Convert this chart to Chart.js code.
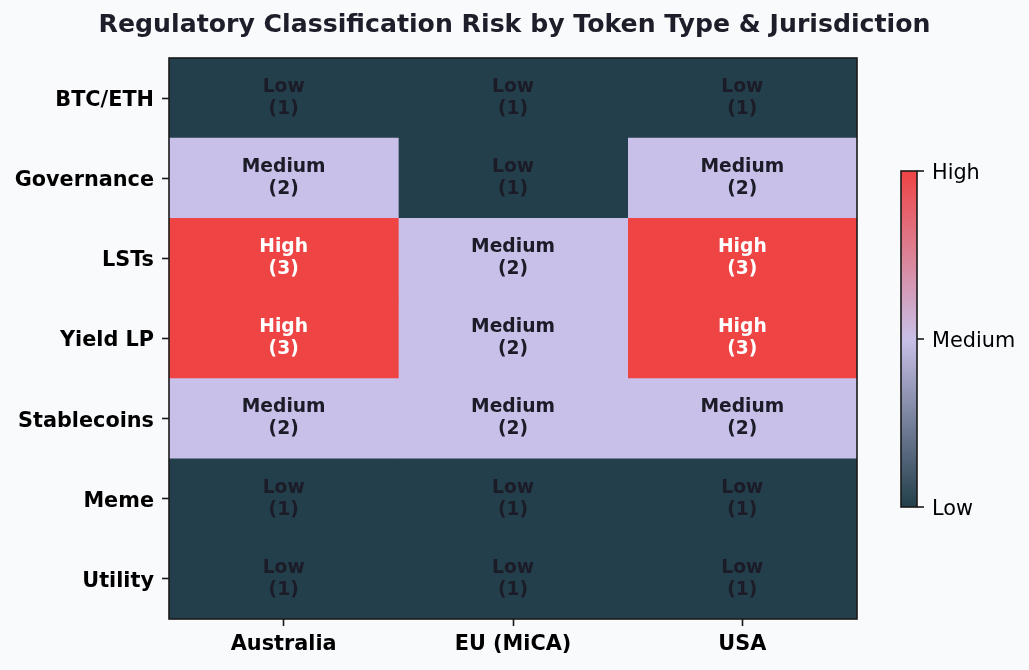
<!DOCTYPE html>
<html>
<head>
<meta charset="utf-8">
<script src="https://cdn.jsdelivr.net/npm/chart.js@4.4.1/dist/chart.umd.min.js"></script>
<style>
  html, body { margin: 0; padding: 0; background: #f8fafc; }
  #wrap { width: 1029px; height: 670px; }
</style>
</head>
<body>
<div id="wrap"><canvas id="chart-1"></canvas></div>
<script>
// rows top to bottom, columns left to right
var tokenTypes = ["BTC/ETH", "Governance", "LSTs", "Yield LP", "Stablecoins", "Meme", "Utility"];
var jurisdictions = ["Australia", "EU (MiCA)", "USA"];
var riskAustralia = [1, 2, 3, 3, 2, 1, 1];
var riskEU = [1, 1, 2, 2, 2, 1, 1];
var riskUSA = [1, 2, 3, 3, 2, 1, 1];
var riskNames = ["Low", "Medium", "High"];

var riskColors = { 1: "#223f4b", 2: "#c8c0e8", 3: "#ef4444" };
var textColors = { 1: "#1c1c28", 2: "#1c1c28", 3: "#ffffff" };
var FONT = "'DejaVu Sans', sans-serif";

var columns = [riskAustralia, riskEU, riskUSA];

var datasets = jurisdictions.map(function (name, i) {
  return {
    label: name,
    data: columns[i].map(function () { return 1; }),
    risk: columns[i],
    backgroundColor: columns[i].map(function (v) { return riskColors[v]; }),
    borderWidth: 0,
    barPercentage: 1,
    categoryPercentage: 1
  };
});

// cell labels, frame, title and colorbar
const heatExtras = {
  id: "heatExtras",
  afterDatasetsDraw: function (chart) {
    var ctx = chart.ctx;
    ctx.save();
    ctx.textAlign = "center";
    ctx.textBaseline = "middle";
    ctx.font = "bold 18.7px " + FONT;
    chart.data.datasets.forEach(function (ds, i) {
      var meta = chart.getDatasetMeta(i);
      meta.data.forEach(function (bar, j) {
        var v = ds.risk[j];
        var cx = (bar.x + bar.base) / 2;
        ctx.fillStyle = textColors[v];
        ctx.fillText(riskNames[v - 1], cx, bar.y - 11);
        ctx.fillText("(" + v + ")", cx, bar.y + 11);
      });
    });
    ctx.restore();
  },
  afterDraw: function (chart) {
    var ctx = chart.ctx;
    var a = chart.chartArea;
    ctx.save();
    // frame
    ctx.strokeStyle = "#1a1a1a";
    ctx.lineWidth = 1.6;
    ctx.strokeRect(a.left, a.top, a.right - a.left, a.bottom - a.top);

    // title
    ctx.fillStyle = "#1e1e2a";
    ctx.font = "bold 25.2px " + FONT;
    ctx.textAlign = "center";
    ctx.textBaseline = "middle";
    ctx.fillText("Regulatory Classification Risk by Token Type & Jurisdiction", chart.width / 2, 25);

    // colorbar
    var cbL = 901, cbR = 917, cbT = 171, cbB = 507;
    var g = ctx.createLinearGradient(0, cbB, 0, cbT);
    g.addColorStop(0, riskColors[1]);
    g.addColorStop(0.5, riskColors[2]);
    g.addColorStop(1, riskColors[3]);
    ctx.fillStyle = g;
    ctx.fillRect(cbL, cbT, cbR - cbL, cbB - cbT);
    ctx.strokeStyle = "#1a1a1a";
    ctx.lineWidth = 1.6;
    ctx.strokeRect(cbL, cbT, cbR - cbL, cbB - cbT);
    ctx.font = "20.8px " + FONT;
    ctx.textAlign = "left";
    ctx.fillStyle = "#000000";
    riskNames.forEach(function (n, k) {
      var y = cbB - (cbB - cbT) * k / 2;
      ctx.beginPath();
      ctx.moveTo(cbR, y);
      ctx.lineTo(cbR + 7, y);
      ctx.stroke();
      ctx.fillText(n, cbR + 15, y + 2.5);
    });
    ctx.restore();
  }
};

new Chart(document.getElementById("chart-1").getContext("2d"), {
  type: "bar",
  data: { labels: tokenTypes, datasets: datasets },
  options: {
    indexAxis: "y",
    responsive: true,
    maintainAspectRatio: false,
    animation: false,
    layout: { padding: { top: 58, right: 172, left: 0, bottom: 0 } },
    plugins: {
      legend: { display: false },
      tooltip: { enabled: false },
      title: { display: false }
    },
    scales: {
      x: {
        type: "linear",
        stacked: true,
        min: 0,
        max: 3,
        afterBuildTicks: function (scale) {
          scale.ticks = [{ value: 0.5 }, { value: 1.5 }, { value: 2.5 }];
        },
        afterFit: function (scale) { scale.height = 51; },
        grid: { drawOnChartArea: false, drawTicks: true, tickLength: 7, tickWidth: 1.6, color: "#1a1a1a" },
        border: { display: false },
        ticks: {
          autoSkip: false,
          maxRotation: 0,
          padding: 6,
          color: "#000000",
          font: { family: FONT, size: 20.8, weight: "bold" },
          callback: function (value) { return jurisdictions[Math.floor(value)]; }
        }
      },
      y: {
        stacked: true,
        afterFit: function (scale) { scale.width = 169; },
        grid: { offset: false, drawOnChartArea: false, drawTicks: true, tickLength: 7, tickWidth: 1.6, color: "#1a1a1a" },
        border: { display: false },
        ticks: {
          padding: 8,
          labelOffset: 2.5,
          color: "#000000",
          font: { family: FONT, size: 20.8, weight: "bold" }
        }
      }
    }
  },
  plugins: [heatExtras]
});
</script>
</body>
</html>
